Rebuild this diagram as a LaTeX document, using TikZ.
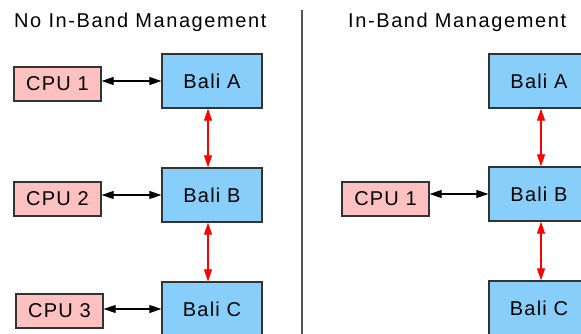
\documentclass[tikz,border=0pt]{standalone}
\usepackage{fontspec}
\setmainfont{Liberation Sans}
\newfontfamily\boxfont{Liberation Sans}[LetterSpace=6]
\newfontfamily\headfont{Liberation Sans}[LetterSpace=8]
\usetikzlibrary{arrows.meta}
\definecolor{cpupink}{RGB}{255,192,192}
\definecolor{baliblue}{RGB}{135,206,250}
\definecolor{boxedge}{RGB}{51,51,51}
\definecolor{rulegray}{RGB}{85,85,85}

\begin{document}
\begin{tikzpicture}[x=1pt,y=-1pt,
    cpu/.style={draw=boxedge,line width=1.4pt,fill=cpupink,minimum width=87pt,minimum height=34pt,inner sep=0pt,font=\boxfont\fontsize{20}{24}\selectfont},
    bali/.style={draw=boxedge,line width=1.4pt,fill=baliblue,minimum width=100pt,minimum height=54pt,inner sep=0pt,font=\boxfont\fontsize{20}{24}\selectfont},
    headtext/.style={anchor=base west,inner sep=0pt,font=\headfont\fontsize{20}{24}\selectfont},
    link/.style={{Triangle[length=12pt,width=8pt]}-{Triangle[length=12pt,width=8pt]},line width=1.1pt},
    redlink/.style={link,red}]
    \useasboundingbox (0,0) rectangle (581,334);
    \clip (0,0) rectangle (581,334);
    \fill[white] (0,0) rectangle (581,334);
    \begin{scope}[shift={(0,0)}]
        \node[headtext] (head) at (14,28) {No In-Band Management};

        \node[cpu] (cpu1) at (57.5,84) {CPU 1};
        \node[cpu] (cpu2) at (57.5,199) {CPU 2};
        \node[cpu] (cpu3) at (59.5,311) {CPU 3};

        \node[bali] (baliA) at (212,81) {Bali A};
        \node[bali] (baliB) at (212,195) {Bali B};
        \node[bali] (baliC) at (212,309) {Bali C};

        \draw[link] (baliA.west -| cpu1.east) -- (baliA.west);
        \draw[link] (baliB.west -| cpu2.east) -- (baliB.west);
        \draw[link] (baliC.west -| cpu3.east) -- (baliC.west);
        \draw[redlink] ([xshift=-4pt]baliA.south) -- ([xshift=-4pt]baliB.north);
        \draw[redlink] ([xshift=-4pt]baliB.south) -- ([xshift=-4pt]baliC.north);
    \end{scope}
    \coordinate (ruletop) at (302,10);
    \coordinate (rulebot) at (302,340);
    \draw[rulegray,line width=1.5pt] (ruletop) -- (rulebot);
    \begin{scope}[shift={(0,0)}]
        \node[headtext] (head) at (348,28) {In-Band Management};

        \node[cpu] (cpu1) at (385.5,199) {CPU 1};

        \node[bali] (baliA) at (539,81) {Bali A};
        \node[bali] (baliB) at (539,194) {Bali B};
        \node[bali] (baliC) at (539,308) {Bali C};

        \draw[link] (baliB.west -| cpu1.east) -- (baliB.west);
        \draw[redlink] ([xshift=2pt]baliA.south) -- ([xshift=2pt]baliB.north);
        \draw[redlink] ([xshift=2pt]baliB.south) -- ([xshift=2pt]baliC.north);
    \end{scope}
\end{tikzpicture}
\end{document}
